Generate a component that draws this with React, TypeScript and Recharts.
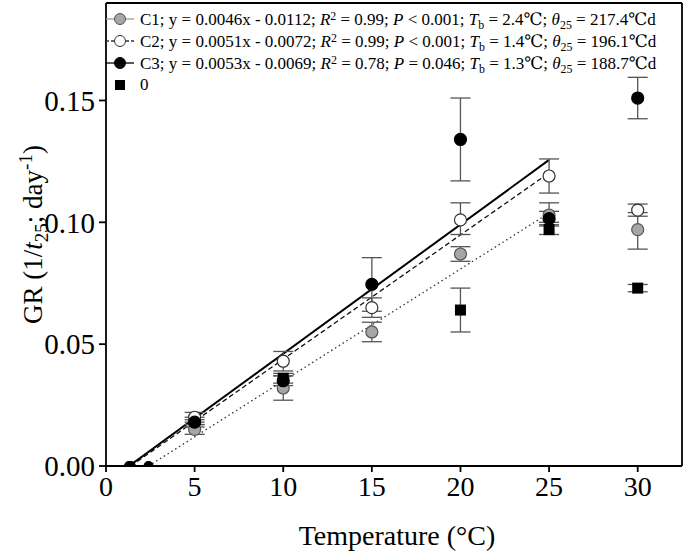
import {
  ComposedChart,
  Scatter,
  Line,
  XAxis,
  YAxis,
  ErrorBar,
  ReferenceLine,
} from 'recharts'

// temperatures (°C)
const temps = [5, 10, 15, 20, 25, 30]
const zeroTemps = [5, 10, 20, 25, 30]

// growth rate means and [minus, plus] errors
const c1Values = [0.015, 0.032, 0.055, 0.087, 0.103, 0.097]
const c1Errors = [[0.002, 0.002], [0.005, 0.005], [0.004, 0.004], [0.003, 0.003], [0.003, 0.005], [0.008, 0.007]]
const c2Values = [0.020, 0.043, 0.065, 0.101, 0.119, 0.105]
const c2Errors = [[0.002, 0.002], [0.004, 0.004], [0.004, 0.004], [0.006, 0.007], [0.007, 0.007], [0.0025, 0.0025]]
const c3Values = [0.018, 0.035, 0.0745, 0.134, 0.1015, 0.151]
const c3Errors = [[0.002, 0.002], [0.002, 0.002], [0.011, 0.011], [0.017, 0.017], [0.003, 0.003], [0.0085, 0.0085]]
const zeroValues = [0.018, 0.036, 0.064, 0.097, 0.073]
const zeroErrors = [[0.001, 0.001], [0.002, 0.002], [0.009, 0.009], [0.002, 0.002], [0.0015, 0.0015]]

// base temperatures (x-intercepts) plotted at GR = 0
const baseTemps = [1.3, 1.4, 2.4]

// regression line end points [x, y]
const c1Line = [[2.4, 0], [25, 0.1038]]
const c2Line = [[1.4, 0], [25, 0.1203]]
const c3Line = [[1.3, 0], [25, 0.1256]]

const xTicks = [0, 5, 10, 15, 20, 25, 30]
const yTicks = [0, 0.05, 0.1, 0.15]

const FONT = '"Liberation Serif", "DejaVu Serif", serif'

const toPoints = (xs: number[], ys: number[], errs: number[][]) =>
  xs.map((x, i) => ({ x, y: ys[i], err: errs[i] }))
const toLine = (pts: number[][]) => pts.map(([x, y]) => ({ x, y }))

const c1Data = toPoints(temps, c1Values, c1Errors)
const c2Data = toPoints(temps, c2Values, c2Errors)
const c3Data = toPoints(temps, c3Values, c3Errors)
const zeroData = toPoints(zeroTemps, zeroValues, zeroErrors)
const baseData = baseTemps.map(x => ({ x, y: 0 }))

const circle = (fill: string, stroke: string, r = 6) => (props: any) => {
  const { cx, cy } = props
  if (cx == null || cy == null) return <g />
  return <circle cx={cx} cy={cy} r={r} fill={fill} stroke={stroke} strokeWidth={1.2} />
}

const square = (props: any) => {
  const { cx, cy } = props
  if (cx == null || cy == null) return <g />
  return <rect x={cx - 5.5} y={cy - 5.5} width={11} height={11} fill="#000" />
}

const legendRows = [
  { name: 'C1', eq: '0.0046x - 0.0112', r2: '0.99', p: '< 0.001', tb: '2.4', th: '217.4', fill: '#a6a6a6', stroke: '#555', line: '#999', dash: '' },
  { name: 'C2', eq: '0.0051x - 0.0072', r2: '0.99', p: '< 0.001', tb: '1.4', th: '196.1', fill: '#fff', stroke: '#333', line: '#333', dash: '3 2' },
  { name: 'C3', eq: '0.0053x - 0.0069', r2: '0.78', p: '= 0.046', tb: '1.3', th: '188.7', fill: '#000', stroke: '#000', line: '#000', dash: '' },
]

function LegendBox() {
  const sub = { fontSize: '0.7em', verticalAlign: '-0.3em', lineHeight: 0 }
  const sup = { fontSize: '0.7em', verticalAlign: '0.45em', lineHeight: 0 }
  return (
    <div style={{ position: 'absolute', left: 106, top: 8, fontFamily: FONT, fontSize: 17, color: '#000' }}>
      {legendRows.map(r => (
        <div key={r.name} style={{ height: 22, display: 'flex', alignItems: 'center', whiteSpace: 'nowrap' }}>
          <svg width={30} height={16} style={{ marginRight: 4 }}>
            <line x1={0} y1={8} x2={28} y2={8} stroke={r.line} strokeWidth={1.3} strokeDasharray={r.dash} />
            <circle cx={14} cy={8} r={5.5} fill={r.fill} stroke={r.stroke} strokeWidth={1} />
          </svg>
          <span>
            {r.name}; y = {r.eq}; <i>R</i><span style={sup}>2</span> = {r.r2}; <i>P</i> {r.p}; <i>T</i>
            <span style={sub}>b</span> = {r.tb}℃; <i>θ</i><span style={sub}>25</span> = {r.th}℃d
          </span>
        </div>
      ))}
      <div style={{ height: 22, display: 'flex', alignItems: 'center' }}>
        <svg width={30} height={16} style={{ marginRight: 4 }}>
          <rect x={9} y={3} width={10} height={10} fill="#000" />
        </svg>
        <span>0</span>
      </div>
    </div>
  )
}

const YTitle = (props: any) => {
  const { viewBox } = props
  const cy = viewBox.y + viewBox.height / 2
  const x = 42
  return (
    <text
      x={x}
      y={cy}
      transform={`rotate(-90, ${x}, ${cy})`}
      textAnchor="middle"
      fontFamily={FONT}
      fontSize={27}
      fill="#000"
    >
      GR (1/<tspan fontStyle="italic">t</tspan>
      <tspan fontSize={19} dy={6}>25</tspan>
      <tspan dy={-6}>; day</tspan>
      <tspan fontSize={19} dy={-10}>-1</tspan>
      <tspan dy={10}>)</tspan>
    </text>
  )
}

const XTitle = (props: any) => {
  const { viewBox } = props
  return (
    <text
      x={viewBox.x + viewBox.width / 2 + 3}
      y={545}
      textAnchor="middle"
      fontFamily={FONT}
      fontSize={28}
      fill="#000"
    >
      Temperature (°C)
    </text>
  )
}

export default function App() {
  return (
    <div style={{ position: 'absolute', left: 0, top: 0, width: 685, height: 559, background: '#fff' }}>
      <ComposedChart
        width={685}
        height={559}
        margin={{ top: 3, right: 3, bottom: 33, left: 10 }}
      >
        <XAxis
          type="number"
          dataKey="x"
          domain={[0, 32.5]}
          ticks={xTicks}
          allowDataOverflow
          height={60}
          tickSize={6}
          tickMargin={4}
          axisLine={{ stroke: '#000', strokeWidth: 1.8 }}
          tickLine={{ stroke: '#000', strokeWidth: 1.8 }}
          tick={{ fontFamily: FONT, fontSize: 28, fill: '#000' }}
          label={<XTitle />}
        />
        <YAxis
          type="number"
          dataKey="y"
          domain={[0, 0.19]}
          ticks={yTicks}
          allowDataOverflow
          width={96}
          tickSize={7}
          tickMargin={4}
          tickFormatter={(v: number) => v.toFixed(2)}
          axisLine={{ stroke: '#000', strokeWidth: 1.8 }}
          tickLine={{ stroke: '#000', strokeWidth: 1.8 }}
          tick={{ fontFamily: FONT, fontSize: 29, fill: '#000' }}
          label={<YTitle />}
        />
        <ReferenceLine y={0.19} stroke="#000" strokeWidth={1.8} ifOverflow="visible" />
        <ReferenceLine x={32.5} stroke="#000" strokeWidth={1.8} ifOverflow="visible" />
        <Line data={toLine(c1Line)} dataKey="y" stroke="#333" strokeWidth={1.3} strokeDasharray="1.5 3" dot={false} isAnimationActive={false} legendType="none" />
        <Line data={toLine(c2Line)} dataKey="y" stroke="#111" strokeWidth={1.3} strokeDasharray="5 3" dot={false} isAnimationActive={false} legendType="none" />
        <Line data={toLine(c3Line)} dataKey="y" stroke="#000" strokeWidth={2} dot={false} isAnimationActive={false} legendType="none" />
        <Scatter data={zeroData} shape={square} isAnimationActive={false} legendType="none">
          <ErrorBar dataKey="err" direction="y" width={10} stroke="#555" strokeWidth={1.3} />
        </Scatter>
        <Scatter data={c1Data} shape={circle('#a6a6a6', '#555')} isAnimationActive={false} legendType="none">
          <ErrorBar dataKey="err" direction="y" width={10} stroke="#555" strokeWidth={1.3} />
        </Scatter>
        <Scatter data={c2Data} shape={circle('#fff', '#333')} isAnimationActive={false} legendType="none">
          <ErrorBar dataKey="err" direction="y" width={10} stroke="#555" strokeWidth={1.3} />
        </Scatter>
        <Scatter data={c3Data} shape={circle('#000', '#000')} isAnimationActive={false} legendType="none">
          <ErrorBar dataKey="err" direction="y" width={10} stroke="#555" strokeWidth={1.3} />
        </Scatter>
        <Scatter data={baseData} shape={circle('#000', '#000', 4.5)} isAnimationActive={false} legendType="none" />
      </ComposedChart>
      <LegendBox />
    </div>
  )
}
